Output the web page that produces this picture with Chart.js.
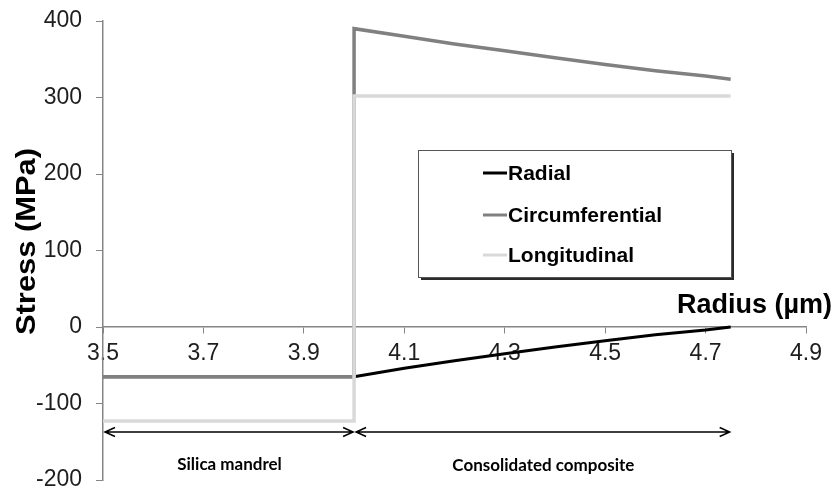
<!DOCTYPE html>
<html>
<head>
<meta charset="utf-8">
<script src="https://cdn.jsdelivr.net/npm/chart.js@4/dist/chart.umd.min.js"></script>
<style>
  html, body { margin: 0; padding: 0; background: #ffffff; }
  #wrap { width: 839px; height: 493px; }
</style>
</head>
<body>
<div id="wrap"><canvas id="c" width="839" height="493"></canvas></div>
<script>
// Stress profile through the mandrel and the consolidated composite layer
const seriesNames = ['Radial', 'Circumferential', 'Longitudinal'];

const radialRadius = [3.5, 4.0, 4.1, 4.2, 4.3, 4.4, 4.5, 4.6, 4.7, 4.75];
const radialStress = [-65, -65, -54, -44, -35, -26, -18, -10, -4, 0];

const circRadius = [3.5, 4.0, 4.0, 4.1, 4.2, 4.3, 4.4, 4.5, 4.6, 4.7, 4.75];
const circStress = [-65, -65, 390, 380, 370, 361, 352, 343, 335, 328, 324];

const longRadius = [3.5, 4.0, 4.0, 4.75];
const longStress = [-123, -123, 302, 302];

const xTicks = [3.5, 3.7, 3.9, 4.1, 4.3, 4.5, 4.7, 4.9];
const yTicks = [-200, -100, 0, 100, 200, 300, 400];

const regionLabels = ['Silica mandrel', 'Consolidated composite'];
const regionBounds = [3.5, 4.0, 4.75];   // radius limits of each region
const xTitle = 'Radius (µm)';
const yTitle = 'Stress (MPa)';

const seriesColors = ['#000000', '#808080', '#d9d9d9'];

function pts(xs, ys) { return xs.map((x, i) => ({ x: x, y: ys[i] })); }

const AXIS_GREY = '#868686';
const TICK_FONT = { family: '"Liberation Sans", Arial, sans-serif', size: 23 };

// keep the plot area fixed by the layout padding alone
function noPad(s) { s.paddingTop = 0; s.paddingBottom = 0; s.paddingLeft = 0; s.paddingRight = 0; }

// Legend box, region arrows and axis titles drawn on top of the plot
const overlay = {
  id: 'overlay',
  afterDraw(chart) {
    const ctx = chart.ctx;
    const xs = chart.scales.x;
    ctx.save();

    // axis titles
    ctx.fillStyle = '#000';
    ctx.font = 'bold 27px "Liberation Sans", Arial, sans-serif';
    ctx.textAlign = 'left';
    ctx.textBaseline = 'alphabetic';
    ctx.fillText(xTitle, 677, 313);

    ctx.save();
    ctx.font = 'bold 28px "Liberation Sans", Arial, sans-serif';
    const w = ctx.measureText(yTitle).width;
    ctx.translate(35, 335);
    ctx.rotate(-Math.PI / 2);
    ctx.scale(187 / w, 1);
    ctx.fillText(yTitle, 0, 0);
    ctx.restore();

    // legend frame with shadow
    const lx = 418, ly = 150, lw = 313, lh = 127;
    ctx.fillStyle = '#2b2b2b';
    ctx.fillRect(lx + 3, ly + 3, lw, lh);
    ctx.fillStyle = '#ffffff';
    ctx.fillRect(lx, ly, lw, lh);
    ctx.strokeStyle = '#555555';
    ctx.lineWidth = 1;
    ctx.strokeRect(lx + 0.5, ly + 0.5, lw, lh);

    const rows = [173, 215, 255];
    ctx.font = 'bold 21px "Liberation Sans", Arial, sans-serif';
    chart.data.datasets.forEach((ds, i) => {
      ctx.strokeStyle = ds.borderColor;
      ctx.lineWidth = 3;
      ctx.beginPath();
      ctx.moveTo(483, rows[i]);
      ctx.lineTo(507, rows[i]);
      ctx.stroke();
      ctx.fillStyle = '#000';
      ctx.fillText(ds.label, 508, rows[i] + 7);
    });

    // region arrows
    const ay = 432;
    ctx.strokeStyle = '#000';
    ctx.lineWidth = 1.5;
    function arrow(x1, x2) {
      ctx.beginPath();
      ctx.moveTo(x1, ay); ctx.lineTo(x2, ay);
      ctx.moveTo(x1 + 10, ay - 4.5); ctx.lineTo(x1, ay); ctx.lineTo(x1 + 10, ay + 4.5);
      ctx.moveTo(x2 - 10, ay - 4.5); ctx.lineTo(x2, ay); ctx.lineTo(x2 - 10, ay + 4.5);
      ctx.stroke();
    }
    const b0 = xs.getPixelForValue(regionBounds[0]);
    const b1 = xs.getPixelForValue(regionBounds[1]);
    const b2 = xs.getPixelForValue(regionBounds[2]);
    arrow(b0 + 2, b1 - 1);
    arrow(b1 + 2, b2 - 1);

    ctx.fillStyle = '#000';
    ctx.font = 'bold 17px Lato, "Open Sans", sans-serif';
    ctx.textAlign = 'center';
    ctx.fillText(regionLabels[0], (b0 + b1) / 2 + 1, 470);
    ctx.fillText(regionLabels[1], (b1 + b2) / 2 + 1, 471);

    ctx.restore();
  }
};

new Chart(document.getElementById('c'), {
  type: 'scatter',
  data: {
    datasets: [
      { label: seriesNames[0], data: pts(radialRadius, radialStress), borderColor: seriesColors[0], borderWidth: 3, order: 3 },
      { label: seriesNames[1], data: pts(circRadius, circStress), borderColor: seriesColors[1], borderWidth: 3.5, order: 2 },
      { label: seriesNames[2], data: pts(longRadius, longStress), borderColor: seriesColors[2], borderWidth: 3.5, order: 1 }
    ].map(d => Object.assign(d, { showLine: true, pointRadius: 0, tension: 0, fill: false, backgroundColor: d.borderColor }))
  },
  options: {
    responsive: false,
    animation: false,
    devicePixelRatio: 1,
    layout: { padding: { left: 0, right: 33, top: 21, bottom: 13 } },
    plugins: { legend: { display: false }, tooltip: { enabled: false } },
    scales: {
      x: {
        type: 'linear',
        position: { y: 0 },
        min: xTicks[0],
        max: xTicks[xTicks.length - 1],
        afterBuildTicks: s => { s.ticks = xTicks.map(v => ({ value: v })); },
        afterFit: s => { s.height = 0; noPad(s); },
        ticks: {
          font: TICK_FONT, color: '#1e1e1e', padding: 7, maxRotation: 0,
          callback: v => v.toFixed(1)
        },
        grid: { drawOnChartArea: false, drawTicks: true, tickLength: 6, color: AXIS_GREY, lineWidth: 1 },
        border: { color: AXIS_GREY, width: 1.5 }
      },
      y: {
        type: 'linear',
        min: yTicks[0],
        max: yTicks[yTicks.length - 1],
        afterBuildTicks: s => { s.ticks = yTicks.map(v => ({ value: v })); },
        afterFit: s => { s.width = 103; noPad(s); },
        ticks: { font: TICK_FONT, color: '#1e1e1e', padding: 14 },
        grid: { drawOnChartArea: false, drawTicks: true, tickLength: 7, color: AXIS_GREY, lineWidth: 1 },
        border: { color: AXIS_GREY, width: 1.5 }
      }
    }
  },
  plugins: [overlay]
});
</script>
</body>
</html>
